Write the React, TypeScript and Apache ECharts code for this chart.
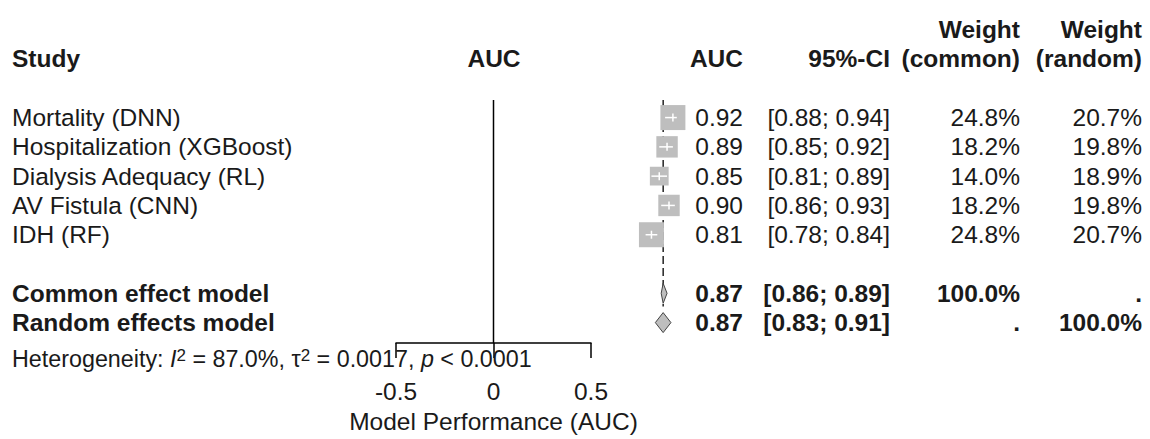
import React, { useEffect, useRef } from "react";
import * as echarts from "echarts";

// ---------------- data ----------------
const studyLabels = [
  "Mortality (DNN)",
  "Hospitalization (XGBoost)",
  "Dialysis Adequacy (RL)",
  "AV Fistula (CNN)",
  "IDH (RF)",
];
const studyAuc = [0.92, 0.89, 0.85, 0.9, 0.81];
const studyLower = [0.88, 0.85, 0.81, 0.86, 0.78];
const studyUpper = [0.94, 0.92, 0.89, 0.93, 0.84];
const weightCommon = [24.8, 18.2, 14.0, 18.2, 24.8];
const weightRandom = [20.7, 19.8, 18.9, 19.8, 20.7];

const summaryLabels = ["Common effect model", "Random effects model"];
const summaryAuc = [0.87, 0.87];
const summaryLower = [0.86, 0.83];
const summaryUpper = [0.89, 0.91];
const summaryWeightCommon = ["100.0%", "."];
const summaryWeightRandom = [".", "100.0%"];

const hetI2 = "87.0%";
const hetTau2 = "0.0017";
const hetP = "< 0.0001";

const xTickValues = [-0.5, 0, 0.5];
const xTickLabels = ["-0.5", "0", "0.5"];
const xAxisTitle = "Model Performance (AUC)";
const refValue = 0;

const headerTop = ["", "", "", "", "Weight", "Weight"];
const headerBottom = ["Study", "AUC", "AUC", "95%-CI", "(common)", "(random)"];

// row indices (y axis units)
const studyRows = [0, 1, 2, 3, 4];
const summaryRows = [6, 7];
const hetRow = 8.23;
const headerRows = [-3, -2];

// ---------------- layout ----------------
const W = 1150;
const H = 439;
const GRID_L = 396;
const GRID_R = 591;
const GRID_T = 100;
const AXIS_Y = 349;
const ROW0 = 118;
const ROWH = 30;

const FONT = "'Liberation Sans', Arial, Helvetica, sans-serif";
const FS = 24.5;
const FS_HET = 23.3;
const FS_SUP = 17;
const TEXT = "#1a1a1a";
const SQ_FILL = "#bebebe";
const SQ_MAX = 25;
const DIAMOND_H = 10;

// column anchors: [x, align]
const COLS: [number, string][] = [
  [12, "left"],
  [494, "center"],
  [743, "right"],
  [890, "right"],
  [1020, "right"],
  [1142, "right"],
];

const fmt2 = (v: number) => v.toFixed(2);
const ci = (l: number, u: number) => `[${fmt2(l)}; ${fmt2(u)}]`;
const pct = (w: number) => `${w.toFixed(1)}%`;

function txt(text: string, x: number, y: number, align: string, bold = false, size = FS): any {
  return {
    type: "text",
    x,
    y,
    silent: true,
    style: {
      text,
      fill: TEXT,
      fontSize: size,
      fontFamily: FONT,
      fontWeight: bold ? "bold" : "normal",
      align,
      verticalAlign: "middle",
    },
  };
}

const maxW = Math.max(...weightCommon);

export default function App() {
  const ref = useRef<HTMLDivElement>(null);

  useEffect(() => {
    if (!ref.current) return;
    const chart = echarts.init(ref.current, null, { renderer: "svg" });

    const option: any = {
      animation: false,
      backgroundColor: "#ffffff",
      grid: {
        left: GRID_L,
        right: W - GRID_R,
        top: GRID_T,
        bottom: H - AXIS_Y,
        containLabel: false,
      },
      xAxis: {
        type: "value",
        min: -0.5,
        max: 0.5,
        interval: 0.5,
        axisLine: { show: true, onZero: false, lineStyle: { color: "#000", width: 1.5 } },
        axisTick: { show: true, inside: false, length: 15, lineStyle: { color: "#000", width: 1.5 } },
        axisLabel: {
          margin: 36,
          color: TEXT,
          fontSize: FS,
          fontFamily: FONT,
          formatter: (v: number) => {
            const k = xTickValues.findIndex((t) => Math.abs(t - v) < 1e-9);
            return k >= 0 ? xTickLabels[k] : "";
          },
        },
        splitLine: { show: false },
        name: xAxisTitle,
        nameLocation: "middle",
        nameGap: 63,
        nameTextStyle: { color: TEXT, fontSize: FS, fontFamily: FONT },
      },
      yAxis: {
        type: "value",
        inverse: true,
        min: (GRID_T - ROW0) / ROWH,
        max: (AXIS_Y - ROW0) / ROWH,
        show: false,
      },
      series: [
        // reference (no effect) line
        {
          type: "custom",
          silent: true,
          clip: false,
          data: [[refValue, 0]],
          renderItem: (params: any, api: any) => {
            const cs = params.coordSys;
            const [x] = api.coord([api.value(0), 0]);
            return {
              type: "line",
              shape: { x1: x, y1: cs.y, x2: x, y2: cs.y + cs.height },
              style: { stroke: "#000", lineWidth: 1.5 },
            };
          },
        },
        // common effect dashed line
        {
          type: "custom",
          silent: true,
          clip: false,
          data: [[summaryAuc[0], summaryRows[0]]],
          renderItem: (params: any, api: any) => {
            const cs = params.coordSys;
            const [x, y] = api.coord([api.value(0), api.value(1) + 0.45]);
            return {
              type: "line",
              shape: { x1: x, y1: cs.y, x2: x, y2: y },
              style: { stroke: "#000", lineWidth: 1.3, lineDash: [8, 4] },
            };
          },
        },
        // studies
        {
          type: "custom",
          silent: true,
          clip: false,
          data: studyAuc.map((v, i) => [v, studyRows[i], studyLower[i], studyUpper[i], weightCommon[i]]),
          renderItem: (params: any, api: any) => {
            const i = params.dataIndex;
            const row = api.value(1);
            const [cx, cy] = api.coord([api.value(0), row]);
            const [xl] = api.coord([api.value(2), row]);
            const [xh] = api.coord([api.value(3), row]);
            const side = SQ_MAX * Math.sqrt(api.value(4) / maxW);
            const sL = cx - side / 2;
            const sR = cx + side / 2;
            return {
              type: "group",
              children: [
                {
                  type: "line",
                  shape: { x1: xl, y1: cy, x2: xh, y2: cy },
                  style: { stroke: "#000", lineWidth: 1.3 },
                },
                {
                  type: "rect",
                  shape: { x: sL, y: cy - side / 2, width: side, height: side },
                  style: { fill: SQ_FILL },
                },
                {
                  type: "line",
                  shape: { x1: Math.max(xl, sL), y1: cy, x2: Math.min(xh, sR), y2: cy },
                  style: { stroke: "#fff", lineWidth: 1.5 },
                },
                {
                  type: "line",
                  shape: { x1: cx, y1: cy - 4, x2: cx, y2: cy + 4 },
                  style: { stroke: "#fff", lineWidth: 1.5 },
                },
                txt(studyLabels[i], COLS[0][0], cy, COLS[0][1]),
                txt(fmt2(studyAuc[i]), COLS[2][0], cy, COLS[2][1]),
                txt(ci(studyLower[i], studyUpper[i]), COLS[3][0], cy, COLS[3][1]),
                txt(pct(weightCommon[i]), COLS[4][0], cy, COLS[4][1]),
                txt(pct(weightRandom[i]), COLS[5][0], cy, COLS[5][1]),
              ],
            };
          },
        },
        // summaries
        {
          type: "custom",
          silent: true,
          clip: false,
          data: summaryAuc.map((v, i) => [v, summaryRows[i], summaryLower[i], summaryUpper[i]]),
          renderItem: (params: any, api: any) => {
            const i = params.dataIndex;
            const row = api.value(1);
            const [cx, cy] = api.coord([api.value(0), row]);
            const [xl] = api.coord([api.value(2), row]);
            const [xh] = api.coord([api.value(3), row]);
            return {
              type: "group",
              children: [
                {
                  type: "polygon",
                  shape: {
                    points: [
                      [xl, cy],
                      [cx, cy - DIAMOND_H],
                      [xh, cy],
                      [cx, cy + DIAMOND_H],
                    ],
                  },
                  style: { fill: SQ_FILL, stroke: "#444", lineWidth: 1 },
                },
                txt(summaryLabels[i], COLS[0][0], cy, COLS[0][1], true),
                txt(fmt2(summaryAuc[i]), COLS[2][0], cy, COLS[2][1], true),
                txt(ci(summaryLower[i], summaryUpper[i]), COLS[3][0], cy, COLS[3][1], true),
                txt(summaryWeightCommon[i], COLS[4][0], cy, COLS[4][1], true),
                txt(summaryWeightRandom[i], COLS[5][0], cy, COLS[5][1], true),
              ],
            };
          },
        },
        // headers + heterogeneity
        {
          type: "custom",
          silent: true,
          clip: false,
          data: [[0, headerRows[0]]],
          renderItem: (params: any, api: any) => {
            const [, y1] = api.coord([0, headerRows[0]]);
            const [, y2] = api.coord([0, headerRows[1]]);
            const [, yh] = api.coord([0, hetRow]);
            const children: any[] = [];
            headerTop.forEach((t, k) => {
              if (t) children.push(txt(t, COLS[k][0], y1, COLS[k][1], true));
            });
            headerBottom.forEach((t, k) => {
              children.push(txt(t, COLS[k][0], y2, COLS[k][1], true));
            });
            children.push({
              type: "text",
              x: COLS[0][0],
              y: yh,
              silent: true,
              style: {
                text: `Heterogeneity: {i|I}{s|2} = ${hetI2}, τ{s|2} = ${hetTau2}, {i|p} ${hetP}`,
                fill: TEXT,
                fontSize: FS_HET,
                fontFamily: FONT,
                align: "left",
                verticalAlign: "middle",
                rich: {
                  i: { fontStyle: "italic", fontSize: FS_HET, fontFamily: FONT, fill: TEXT },
                  s: { fontSize: FS_SUP, fontFamily: FONT, fill: TEXT, verticalAlign: "top" },
                },
              },
            });
            return { type: "group", children };
          },
        },
      ],
    };

    chart.setOption(option);
    return () => chart.dispose();
  }, []);

  return (
    <div
      ref={ref}
      style={{ position: "absolute", left: 0, top: 0, width: W, height: H, background: "#fff" }}
    />
  );
}
